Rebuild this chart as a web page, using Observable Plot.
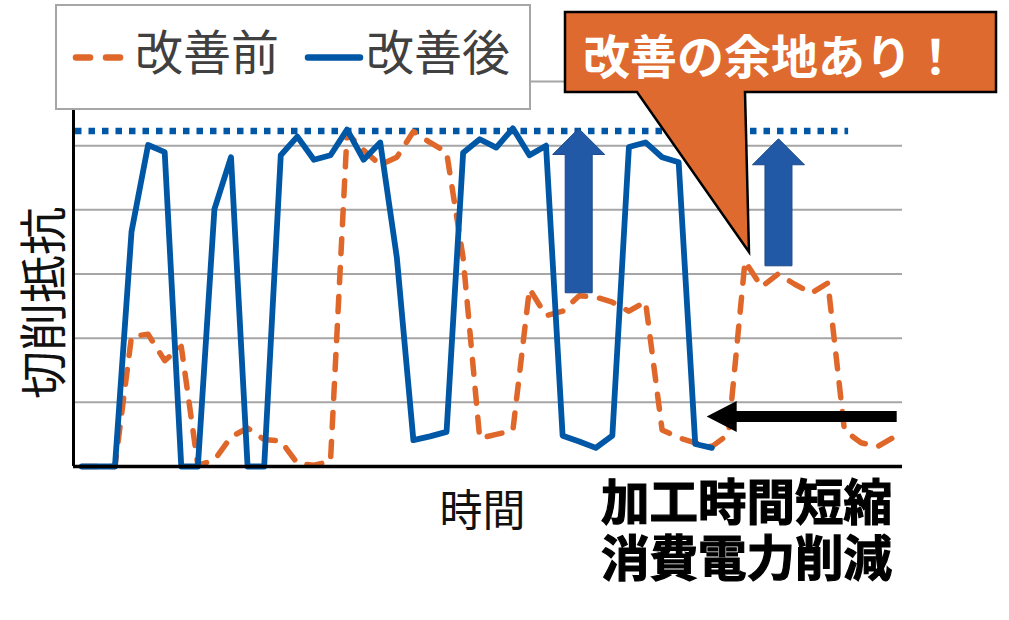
<!DOCTYPE html>
<html>
<head>
<meta charset="utf-8">
<script src="https://cdn.jsdelivr.net/npm/d3@7"></script>
<script src="https://cdn.jsdelivr.net/npm/@observablehq/plot@0.6"></script>
<style>
html, body { margin: 0; padding: 0; background: #fff; }
#chart { width: 1009px; height: 620px; position: relative; }
</style>
</head>
<body>
<div id="chart"></div>
<script>
// ---- data ----
const seriesNames = ["改善前", "改善後"];
const timeSteps = d3.range(50); // category positions along 時間
const before = [0, 0, 0, 2.03, 2.06, 1.65, 1.87, 0.02, 0.1, 0.46,
                0.6, 0.42, 0.4, 0.05, 0.02, 0.08, 5.2, 4.93, 4.7, 4.82,
                5.22, 5.05, 4.9, 3.25, 0.44, 0.5, 0.56, 2.77, 2.35, 2.42,
                2.66, 2.64, 2.56, 2.42, 2.57, 0.57, 0.45, 0.37, 0.31, 0.5,
                3.2, 2.8, 3.0, 2.84, 2.7, 2.86, 0.56, 0.37, 0.31, 0.46];
const after = [0, 0, 0, 3.66, 5.01, 4.9, 0, 0, 4.01, 4.82,
               0, 0, 4.85, 5.14, 4.78, 4.85, 5.25, 4.78, 5.05, 3.26,
               0.41, 0.47, 0.54, 4.89, 5.1, 4.97, 5.27, 4.85, 5.0, 0.48,
               0.39, 0.29, 0.48, 4.98, 5.05, 4.82, 4.74, 0.35, 0.29];
const gridValues = [1, 2, 3, 4, 5, 6];
const targetLevel = [{y: 5.23, x1: -0.38, x2: 46.25}];
const yLabel = "切削抵抗";
const xLabel = "時間";
const calloutText = "改善の余地あり！";
const effectLines = ["加工時間短縮", "消費電力削減"];
const upArrows = [{at: 30, from: 2.7, to: 5.26}, {at: 42.05, from: 3.12, to: 5.1}];
const leftArrow = {from: 49.18, to: 37.72, at: 0.77};

// ---- styles ----
const ORANGE = "#E0672A";
const BLUE = "#0057A5";
const FONT = "'Noto Sans CJK JP', 'Noto Sans', sans-serif";

const rowsBefore = before.map((v, k) => ({t: timeSteps[k], v, s: seriesNames[0]}));
const rowsAfter = after.map((v, k) => ({t: timeSteps[k], v, s: seriesNames[1]}));

const chart = Plot.plot({
  width: 1009,
  height: 620,
  marginLeft: 73,
  marginRight: 107,
  marginTop: 81,
  marginBottom: 154,
  x: {domain: [-0.5, 49.5], axis: null},
  y: {domain: [0, 6], axis: null},
  style: {background: "#fff", fontFamily: FONT, overflow: "visible"},
  marks: [
    Plot.ruleY(gridValues, {stroke: "#a6a6a6", strokeWidth: 2}),
    Plot.ruleY(targetLevel, {y: "y", x1: "x1", x2: "x2", stroke: BLUE, strokeWidth: 6.5, strokeDasharray: "6.5,7"}),
    Plot.line(rowsBefore, {x: "t", y: "v", stroke: ORANGE, strokeWidth: 5.5, strokeDasharray: "15,14", strokeLinecap: "round", strokeLinejoin: "round"}),
    Plot.line(rowsAfter, {x: "t", y: "v", stroke: BLUE, strokeWidth: 5.8, strokeLinejoin: "round"}),
    Plot.ruleX([-0.5], {stroke: "#000", strokeWidth: 3}),
    Plot.ruleY([0], {stroke: "#000", strokeWidth: 3.5})
  ]
});
document.getElementById("chart").appendChild(chart);

// ---- annotations ----
const sx = chart.scale("x"), sy = chart.scale("y");
const X = v => sx.apply(v), Y = v => sy.apply(v);
const svg = d3.select(chart);
const g = svg.append("g").attr("text-anchor", "start");

// up block arrows
upArrows.forEach(a => {
  const cx = X(a.at), yb = Y(a.from), yt = Y(a.to);
  const sw = 13.5, hw = 26, hl = 26;
  g.append("path")
    .attr("d", `M${cx - sw},${yb} V${yt + hl} H${cx - hw} L${cx},${yt} L${cx + hw},${yt + hl} H${cx + sw} V${yb} Z`)
    .attr("fill", "#2159A6").attr("stroke", "#1B4A8A").attr("stroke-width", 1);
});

// black left arrow
{
  const x0 = X(leftArrow.from), x1 = X(leftArrow.to), cy = Y(leftArrow.at);
  const sw = 5.5, hw = 15.5, hl = 30;
  g.append("path")
    .attr("d", `M${x0},${cy - sw} H${x1 + hl} V${cy - hw} L${x1},${cy} L${x1 + hl},${cy + hw} V${cy + sw} H${x0} Z`)
    .attr("fill", "#000");
}

// legend box
g.append("rect").attr("x", 56).attr("y", 5).attr("width", 474).attr("height", 104)
  .attr("fill", "#fff").attr("stroke", "#a6a6a6").attr("stroke-width", 2);
g.append("line").attr("x1", 76).attr("x2", 90).attr("y1", 57.5).attr("y2", 57.5)
  .attr("stroke", ORANGE).attr("stroke-width", 6.5).attr("stroke-linecap", "round");
g.append("line").attr("x1", 106).attr("x2", 120).attr("y1", 57.5).attr("y2", 57.5)
  .attr("stroke", ORANGE).attr("stroke-width", 6.5).attr("stroke-linecap", "round");
g.append("text").attr("x", 135).attr("y", 48.5).text(seriesNames[0])
  .attr("font-family", FONT).attr("font-size", 48).attr("fill", "#404040")
  .attr("text-anchor", "start").attr("dominant-baseline", "central");
g.append("line").attr("x1", 308).attr("x2", 360).attr("y1", 57.5).attr("y2", 57.5)
  .attr("stroke", BLUE).attr("stroke-width", 6.5).attr("stroke-linecap", "round");
g.append("text").attr("x", 366).attr("y", 48.5).text(seriesNames[1])
  .attr("font-family", FONT).attr("font-size", 48).attr("fill", "#404040")
  .attr("text-anchor", "start").attr("dominant-baseline", "central");

// callout
g.append("path")
  .attr("d", "M565,12 H996 V92 H745 L749,252 L637,92 H565 Z")
  .attr("fill", "#DF6A2F").attr("stroke", "#000").attr("stroke-width", 2.5).attr("stroke-linejoin", "miter");
g.append("text").attr("x", 771).attr("y", 53).text(calloutText)
  .attr("font-family", FONT).attr("font-size", 47).attr("font-weight", "bold").attr("fill", "#fff")
  .attr("text-anchor", "middle").attr("dominant-baseline", "central");

// axis titles
g.append("text").attr("transform", "translate(40,303) rotate(-90)").text(yLabel)
  .attr("font-family", FONT).attr("font-size", 48).attr("fill", "#111")
  .attr("text-anchor", "middle").attr("dominant-baseline", "central");
g.append("text").attr("x", 482.5).attr("y", 507).text(xLabel)
  .attr("font-family", FONT).attr("font-size", 43).attr("fill", "#111")
  .attr("text-anchor", "middle").attr("dominant-baseline", "central");

// effect text
effectLines.forEach((s, k) => {
  g.append("text").attr("x", 601).attr("y", 499 + k * 56).text(s)
    .attr("font-family", FONT).attr("font-size", 48.5).attr("font-weight", "bold").attr("fill", "#000")
    .attr("stroke", "#000").attr("stroke-width", 1.2)
    .attr("text-anchor", "start").attr("dominant-baseline", "central");
});
</script>
</body>
</html>
